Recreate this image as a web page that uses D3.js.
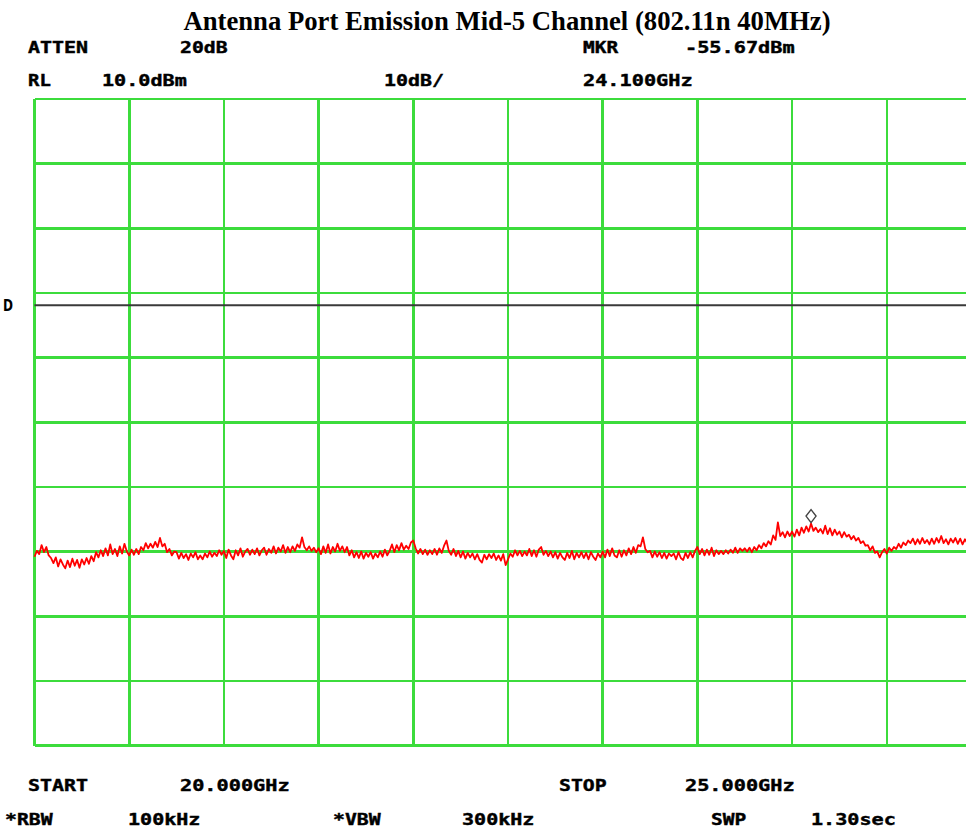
<!DOCTYPE html>
<html>
<head>
<meta charset="utf-8">
<script src="https://cdn.jsdelivr.net/npm/d3@7"></script>
<style>
  html, body { margin: 0; padding: 0; background: #fff; overflow: hidden; }
  svg { display: block; }
</style>
</head>
<body>
<svg id="chart" width="966" height="831"></svg>
<script>
// Spectrum analyser sweep: 20–25 GHz, 401 points, reference level 10 dBm, 10 dB/div
const startGHz = 20.0;
const stopGHz = 25.0;
const refLevel = 10;       // dBm, top graticule line
const dbPerDiv = 10;
const divisions = 10;
const displayLine = -21.9; // dBm, "D" line
const markerGHz = 24.1;
const markerDbm = -55.67;

// Trace amplitude in dBm, one value per sweep point
const traceDbm = [
  -60.8,-59.9,-60.4,-59.0,-60.1,-59.3,-60.6,-61.0,-61.8,-60.9,
  -62.3,-61.2,-62.0,-62.6,-61.4,-62.4,-61.1,-62.2,-61.3,-62.5,
  -61.2,-62.0,-61.0,-61.9,-60.7,-61.5,-60.1,-60.9,-59.8,-60.7,
  -59.5,-60.6,-58.9,-60.4,-59.6,-60.7,-59.2,-60.3,-58.8,-60.0,
  -60.6,-59.7,-60.5,-59.6,-60.4,-59.3,-59.8,-58.7,-59.5,-58.8,
  -59.4,-58.5,-59.3,-57.9,-59.2,-58.8,-60.1,-59.6,-60.6,-60.0,
  -60.1,-61.1,-60.2,-61.0,-60.4,-61.3,-60.3,-60.9,-60.1,-61.2,
  -60.6,-61.2,-60.3,-60.9,-60.0,-60.8,-60.2,-60.7,-59.8,-60.5,
  -59.9,-61.0,-59.7,-60.6,-61.2,-59.8,-60.6,-59.5,-60.8,-60.0,
  -59.6,-60.5,-59.7,-60.4,-59.5,-60.6,-59.8,-59.4,-60.5,-59.6,
  -60.2,-59.2,-60.3,-59.4,-60.0,-59.0,-60.2,-59.3,-60.1,-59.2,
  -59.9,-58.9,-59.4,-57.8,-59.3,-59.8,-59.2,-59.9,-59.4,-60.1,
  -59.5,-60.4,-59.2,-60.2,-58.9,-60.3,-59.3,-60.0,-58.8,-59.9,
  -59.2,-60.1,-59.3,-60.6,-59.8,-60.9,-60.1,-61.0,-60.0,-61.1,
  -60.2,-60.8,-60.1,-61.1,-60.3,-60.9,-60.0,-60.8,-59.7,-60.6,
  -59.9,-58.9,-60.1,-59.0,-59.8,-58.7,-59.7,-59.1,-59.6,-58.6,
  -58.3,-59.5,-60.3,-59.6,-60.4,-59.7,-60.5,-59.8,-60.4,-59.6,
  -60.5,-59.5,-60.2,-59.1,-58.3,-59.9,-60.5,-59.6,-60.7,-59.9,
  -60.9,-60.0,-61.1,-60.2,-60.9,-60.3,-61.2,-60.4,-61.3,-61.7,
  -60.5,-61.2,-60.4,-61.0,-60.3,-61.3,-60.6,-61.4,-60.4,-62.1,
  -61.2,-60.3,-60.8,-59.8,-60.6,-59.9,-60.7,-60.0,-60.6,-59.6,
  -60.7,-59.8,-60.8,-59.7,-59.3,-60.5,-59.9,-60.7,-60.0,-60.9,
  -60.1,-61.1,-60.2,-60.9,-61.3,-60.2,-61.0,-59.9,-61.2,-60.2,
  -60.9,-60.1,-61.0,-60.2,-61.2,-60.1,-60.8,-61.3,-60.3,-60.9,
  -60.0,-60.9,-59.7,-60.7,-59.5,-60.6,-60.9,-59.8,-60.8,-59.8,
  -60.6,-59.5,-60.4,-59.3,-60.2,-59.0,-59.2,-57.8,-59.6,-60.1,
  -59.9,-60.9,-60.0,-60.8,-60.1,-61.0,-60.2,-61.1,-60.3,-60.7,
  -60.3,-61.2,-60.1,-61.0,-61.3,-60.2,-61.0,-60.1,-60.9,-59.9,
  -59.3,-60.4,-59.6,-60.6,-59.7,-60.5,-59.4,-60.7,-59.8,-60.4,
  -59.9,-60.4,-59.8,-60.3,-59.7,-60.2,-59.4,-60.2,-59.5,-59.9,
  -59.5,-60.0,-59.4,-60.1,-59.3,-59.8,-59.0,-59.5,-58.7,-59.2,
  -58.4,-58.9,-57.5,-58.2,-55.5,-57.6,-57.0,-57.8,-56.9,-57.6,
  -56.9,-57.7,-56.6,-57.5,-56.3,-57.1,-56.1,-56.9,-55.67,-56.8,
  -56.3,-57.0,-56.5,-57.2,-56.0,-57.3,-56.4,-57.5,-56.6,-57.4,
  -56.9,-57.8,-57.0,-57.7,-57.4,-58.1,-57.6,-58.3,-57.9,-58.7,
  -58.4,-59.1,-59.0,-59.8,-59.2,-60.2,-60.0,-60.9,-60.1,-59.6,
  -60.3,-59.4,-59.9,-59.3,-59.6,-58.8,-59.4,-58.6,-59.0,-58.3,
  -58.7,-58.0,-58.9,-58.1,-58.8,-57.9,-58.7,-58.2,-58.9,-58.0,
  -58.8,-57.9,-58.6,-57.6,-58.7,-58.1,-58.9,-58.0,-58.6,-57.9,
  -58.8,-58.0,-58.9,-58.1,-58.7,-58.2,-58.9,-58.0,-58.7,-58.1,-58.6
];

// Annotation text rows (label, value) as shown on the instrument
const headerTop = [["ATTEN", "20dB"], ["MKR", "-55.67dBm"]];
const headerMid = [["RL", "10.0dBm"], ["10dB/", ""], ["24.100GHz", ""]];
const footerTop = [["START", "20.000GHz"], ["STOP", "25.000GHz"]];
const footerBot = [["*RBW", "100kHz"], ["*VBW", "300kHz"], ["SWP", "1.30sec"]];
const title = "Antenna Port Emission Mid-5 Channel (802.11n 40MHz)";

const svg = d3.select("#chart");

const plot = { left: 34.5, top: 99, right: 981.5, bottom: 745.5 };

const x = d3.scaleLinear().domain([startGHz, stopGHz]).range([plot.left, plot.right]);
const y = d3.scaleLinear()
  .domain([refLevel - dbPerDiv * divisions, refLevel])
  .range([plot.bottom, plot.top]);

const freqs = traceDbm.map((_, i) => startGHz + (stopGHz - startGHz) * i / (traceDbm.length - 1));

// Title
svg.append("text")
  .attr("x", 507).attr("y", 30)
  .attr("text-anchor", "middle")
  .attr("font-family", "'Liberation Serif', 'Times New Roman', serif")
  .attr("font-weight", "bold")
  .attr("font-size", 26.7)
  .attr("fill", "#000")
  .text(title);

// Instrument-style monospaced labels, stretched to the wide character cell
const charW = 12.4;
function label(txt, px, py) {
  if (!txt) return;
  svg.append("text")
    .attr("x", px).attr("y", py)
    .attr("font-family", "'DejaVu Sans Mono', monospace")
    .attr("font-weight", "bold")
    .attr("font-size", 15)
    .attr("fill", "#000")
    .attr("stroke", "#000")
    .attr("stroke-width", 0.4)
    .attr("textLength", txt.length * charW - 2)
    .attr("lengthAdjust", "spacingAndGlyphs")
    .text(txt);
}

label(headerTop[0][0], 28, 53);
label(headerTop[0][1], 180, 53);
label(headerTop[1][0], 583, 53);
label(headerTop[1][1], 685, 53);
label(headerMid[0][0], 28, 86);
label(headerMid[0][1], 102, 86);
label(headerMid[1][0], 384, 86);
label(headerMid[2][0], 583, 86);
label(footerTop[0][0], 28, 791);
label(footerTop[0][1], 180, 791);
label(footerTop[1][0], 559, 791);
label(footerTop[1][1], 685, 791);
label(footerBot[0][0], 5, 825);
label(footerBot[0][1], 128, 825);
label(footerBot[1][0], 333, 825);
label(footerBot[1][1], 462, 825);
label(footerBot[2][0], 711, 825);
label(footerBot[2][1], 811, 825);

// Graticule
const grid = svg.append("g")
  .attr("stroke", "#3cdc3c")
  .attr("stroke-width", 2.6)
  .attr("shape-rendering", "crispEdges");

const xDivs = d3.range(0, divisions + 1).map(i => startGHz + (stopGHz - startGHz) * i / divisions);
const yDivs = d3.range(0, divisions + 1).map(i => refLevel - dbPerDiv * i);

grid.selectAll("line.v").data(xDivs).join("line")
  .attr("class", "v")
  .attr("x1", d => x(d)).attr("x2", d => x(d))
  .attr("y1", plot.top).attr("y2", plot.bottom);

grid.selectAll("line.h").data(yDivs).join("line")
  .attr("class", "h")
  .attr("x1", plot.left).attr("x2", plot.right)
  .attr("y1", d => y(d)).attr("y2", d => y(d));

// Display line
svg.append("line")
  .attr("x1", plot.left).attr("x2", plot.right)
  .attr("y1", y(displayLine)).attr("y2", y(displayLine))
  .attr("stroke", "#3a3a3a")
  .attr("stroke-width", 2);

svg.append("text")
  .attr("x", 3).attr("y", y(displayLine) + 6)
  .attr("font-family", "'DejaVu Sans', sans-serif")
  .attr("font-weight", "bold")
  .attr("font-size", 15)
  .attr("textLength", 10)
  .attr("lengthAdjust", "spacingAndGlyphs")
  .text("D");

// Trace
const line = d3.line()
  .x((d, i) => x(freqs[i]))
  .y(d => y(d));

svg.append("path")
  .datum(traceDbm)
  .attr("fill", "none")
  .attr("stroke", "#ff0000")
  .attr("stroke-width", 1.8)
  .attr("stroke-linejoin", "round")
  .attr("d", line);

// Marker diamond, bottom vertex on the marker point
const mx = x(markerGHz), my = y(markerDbm) - 1;
svg.append("path")
  .attr("d", `M${mx},${my} L${mx + 5},${my - 6.5} L${mx},${my - 13} L${mx - 5},${my - 6.5} Z`)
  .attr("fill", "#fff")
  .attr("stroke", "#444")
  .attr("stroke-width", 1.4);
</script>
</body>
</html>
